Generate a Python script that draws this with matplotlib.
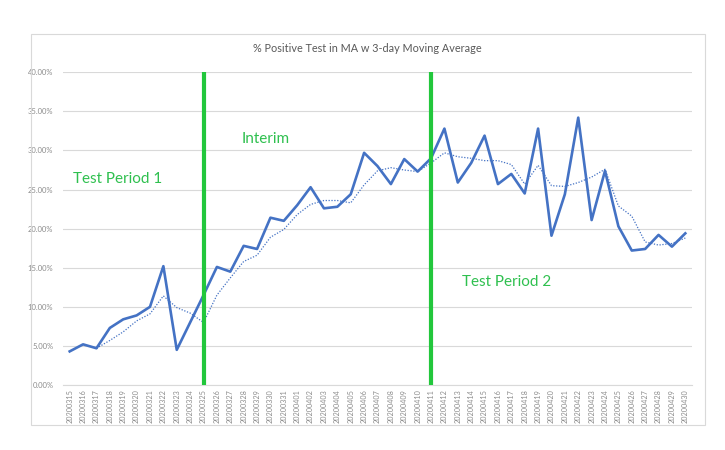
import matplotlib
matplotlib.use('Agg')
from matplotlib import pyplot
from matplotlib.patches import Rectangle
from matplotlib.ticker import PercentFormatter

DATES = ['20200315', '20200316', '20200317', '20200318', '20200319', '20200320',
         '20200321', '20200322', '20200323', '20200324', '20200325', '20200326',
         '20200327', '20200328', '20200329', '20200330', '20200331', '20200401',
         '20200402', '20200403', '20200404', '20200405', '20200406', '20200407',
         '20200408', '20200409', '20200410', '20200411', '20200412', '20200413',
         '20200414', '20200415', '20200416', '20200417', '20200418', '20200419',
         '20200420', '20200421', '20200422', '20200423', '20200424', '20200425',
         '20200426', '20200427', '20200428', '20200429', '20200430']

# % positive per day
POSITIVE = [4.3, 5.2, 4.7, 7.3, 8.4, 8.9, 10.0, 15.2, 4.5, 8.0,
            11.5, 15.1, 14.5, 17.8, 17.4, 21.4, 21.0, 23.0, 25.3, 22.6,
            22.8, 24.4, 29.7, 28.0, 25.7, 28.9, 27.3, 29.0, 32.8, 25.9,
            28.4, 31.9, 25.7, 27.0, 24.5, 32.8, 19.1, 24.4, 34.2, 21.1,
            27.4, 20.3, 17.2, 17.4, 19.2, 17.7, 19.4]

# 3-day moving average (starts on the third day)
MA_DATES = DATES[2:]
MOVING_AVG = [4.7, 5.7, 6.8, 8.2, 9.1, 11.4, 9.9, 9.2, 8.0, 11.5,
              13.7, 15.8, 16.6, 18.9, 19.9, 21.8, 23.1, 23.6, 23.6, 23.3,
              25.6, 27.4, 27.8, 27.5, 27.3, 28.4, 29.7, 29.2, 29.0, 28.7,
              28.7, 28.2, 25.7, 28.1, 25.5, 25.4, 25.9, 26.6, 27.6, 22.9,
              21.6, 18.3, 17.9, 18.1, 18.8]

PERIOD_SPLITS = ['20200325', '20200411']
PERIOD_LABELS = ['Test Period 1', 'Interim', 'Test Period 2']
LABEL_DATES = ['20200315', '20200328', '20200413']
LABEL_LEVELS = [26.3, 31.5, 13.2]

BLUE = '#4472C4'
GREEN = '#22c73c'
GREEN_TEXT = '#2fc04f'
GRID = '#d9d9d9'
TEXT = '#595959'
LABEL_SHIFT = [0.25, -0.12, 0.3]  # in category units

pyplot.rcParams['font.family'] = ['Lato', 'DejaVu Sans']

f = pyplot.figure(figsize=(7.25, 4.5), dpi=100)
f.patch.set_facecolor('white')
# outer chart border
f.add_artist(Rectangle((31 / 725., 1 - 425 / 450.), 674 / 725., 391 / 450.,
                       transform=f.transFigure, fill=False,
                       edgecolor=GRID, linewidth=0.8))

ax = f.add_axes([63 / 725., 1 - 385 / 450., 629 / 725., (385 - 72.3) / 450.])
x = list(range(len(DATES)))
idx = dict((d, i) for i, d in enumerate(DATES))

ax.plot(x, POSITIVE, color=BLUE, linewidth=1.9, solid_joinstyle='round', zorder=3)
ax.plot([idx[d] for d in MA_DATES], MOVING_AVG, color=BLUE, linewidth=0.9,
        linestyle=(0, (1, 1.3)), zorder=3)

ax.vlines([idx[d] for d in PERIOD_SPLITS], 0, 40, color=GREEN,
          linewidth=3.0, zorder=4)

for label, d, yv, dx in zip(PERIOD_LABELS, LABEL_DATES, LABEL_LEVELS, LABEL_SHIFT):
    ax.text(idx[d] + dx, yv, label, color=GREEN_TEXT, fontsize=11,
            va='center', ha='left')

ax.set_xlim(-0.5, len(DATES) - 0.5)
ax.set_ylim(0, 40)
ax.set_yticks([0, 5, 10, 15, 20, 25, 30, 35, 40])
ax.yaxis.set_major_formatter(PercentFormatter(100, decimals=2))
ax.set_xticks(x)
ax.set_xticklabels(DATES, rotation=90)
ax.tick_params(axis='y', length=0, pad=7, labelsize=5.5, labelcolor='#8c8c8c')
ax.tick_params(axis='x', length=0, pad=3, labelsize=5.2, labelcolor='#8c8c8c')

ax.grid(True, axis='y', color=GRID, linewidth=0.8)
ax.set_axisbelow(True)
for side in ('top', 'right', 'left'):
    ax.spines[side].set_visible(False)
ax.spines['bottom'].set_color(GRID)
ax.spines['bottom'].set_linewidth(0.8)

f.text(367.5 / 725., 1 - 49 / 450., '% Positive Test in MA w 3-day Moving Average',
       ha='center', va='center', fontsize=7.8, color=TEXT)

f.savefig('out.png', dpi=100, facecolor='white')
